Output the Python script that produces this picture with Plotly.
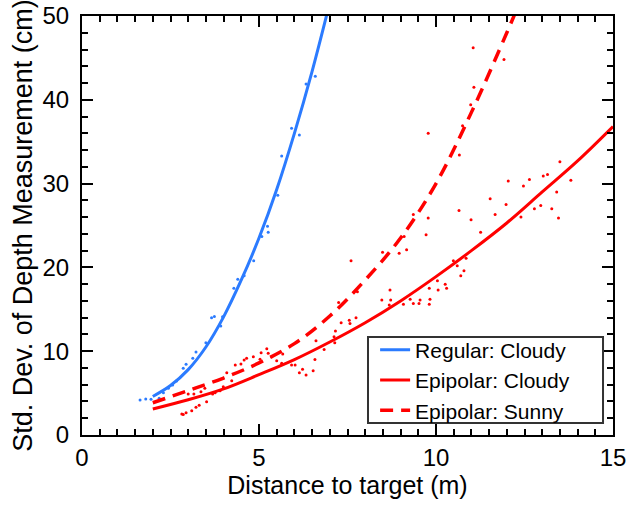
import plotly.graph_objects as go

# ---- fitted curves ----
reg_fit_x = [2.0, 2.5, 3.0, 3.5, 4.0, 4.5, 5.0, 5.5, 6.0, 6.5, 7.0]
reg_fit_y = [4.6, 5.9, 7.8, 10.5, 14.1, 18.5, 23.5, 29.3, 36.0, 43.4, 51.6]

epi_cloudy_fit_x = [2, 3, 4, 5, 6, 7, 8, 9, 10, 11, 12, 13, 14, 15]
epi_cloudy_fit_y = [3.1, 4.2, 5.5, 7.2, 9.0, 11.1, 13.4, 16.0, 18.9, 22.0, 25.3, 29.0, 32.7, 36.8]

epi_sunny_fit_x = [2, 3, 4, 5, 6, 7, 8, 9, 10, 11, 12, 12.5]
epi_sunny_fit_y = [3.85, 5.3, 6.8, 8.6, 10.9, 14.2, 18.5, 23.5, 30.0, 38.5, 48.0, 53.0]

# ---- measured points ----
reg_pts_x = [1.64, 1.8, 1.95, 2.18, 2.3, 2.44, 2.56, 2.67, 2.86, 2.94, 3.13, 3.22, 3.5, 3.66,
             3.74, 3.92, 3.97, 4.29, 4.4, 4.58, 4.85, 5.08, 5.24, 5.26, 5.53, 5.64, 5.92,
             6.14, 6.33, 6.59]
reg_pts_y = [4.18, 4.3, 4.26, 4.4, 5.05, 5.57, 5.97, 6.44, 7.96, 8.45, 9.15, 9.9, 11.0, 14.0,
             14.15, 13.0, 14.1, 17.5, 18.6, 19.0, 20.8, 23.7, 24.9, 24.2, 28.6, 33.3, 36.6,
             35.8, 41.9, 42.8]

sunny_pts_x = [3.0, 3.16, 3.36, 3.47, 3.69, 3.76, 3.9, 3.99, 4.09, 4.23, 4.33, 4.49, 4.58,
               4.65, 4.84, 5.06, 5.22, 5.26, 5.36, 5.67, 6.61, 6.84, 7.12, 7.16, 7.25, 7.32,
               7.55, 7.57, 7.74, 7.6, 7.78, 8.49, 8.96, 9.1, 9.17, 9.36, 9.72, 9.78, 9.78,
               10.66, 10.75, 10.98, 11.07, 11.05, 11.92]
sunny_pts_y = [4.9, 4.9, 5.17, 5.57, 4.9, 5.05, 5.29, 5.77, 7.44, 6.48, 8.35, 8.47, 8.95,
               9.15, 9.34, 9.82, 10.3, 9.75, 9.34, 9.67, 11.25, 10.2, 11.73, 12.4, 15.8, 13.4,
               13.7, 13.3, 14.0, 20.8, 17.1, 21.8, 21.7, 23.7, 22.1, 26.3, 23.9, 25.9, 36.0,
               33.4, 36.9, 39.4, 41.5, 46.2, 44.8]

cloudy_pts_x = [2.82, 2.86, 2.94, 3.1, 3.22, 3.31, 3.52, 5.03, 5.5, 5.64, 5.92, 6.02, 6.14,
                6.23, 6.33, 6.53, 6.58, 7.14, 8.47, 8.7, 8.72, 8.68, 9.08, 9.27, 9.36, 9.52,
                9.55, 9.81, 9.83, 9.81, 10.04, 10.06, 10.26, 10.3, 10.49, 10.6, 10.7, 10.79,
                10.85, 10.65, 10.99, 11.26, 11.53, 11.67, 11.98, 12.04, 12.4, 12.47, 12.64,
                12.78, 12.96, 13.03, 13.15, 13.27, 13.41, 13.46, 13.5, 13.81]
cloudy_pts_y = [2.5, 2.46, 2.66, 2.9, 3.3, 3.54, 3.98, 9.03, 8.87, 8.55, 8.35, 8.35, 7.44,
                7.84, 7.16, 7.68, 9.0, 11.0, 16.1, 17.3, 16.1, 15.5, 15.6, 16.2, 15.7, 15.7,
                16.1, 17.5, 16.2, 15.6, 18.4, 17.3, 18.0, 17.5, 20.8, 20.2, 19.0, 19.6,
                21.1, 26.8, 25.7, 24.2, 28.2, 26.3, 27.5, 30.3, 26.0, 29.7, 30.5,
                27.0, 27.4, 30.9, 31.1, 27.0, 29.0, 25.9, 32.6, 30.4]

x_ticks = [0, 5, 10, 15]
y_ticks = [0, 10, 20, 30, 40, 50]

BLUE = "#2B7BFF"
RED = "#FF0000"
FONT = "Liberation Sans, Arial, sans-serif"

fig = go.Figure()

# dots
fig.add_trace(go.Scatter(x=reg_pts_x, y=reg_pts_y, mode="markers",
                         marker=dict(color=BLUE, size=3), showlegend=False, hoverinfo="skip"))
fig.add_trace(go.Scatter(x=cloudy_pts_x, y=cloudy_pts_y, mode="markers",
                         marker=dict(color=RED, size=3), showlegend=False, hoverinfo="skip"))
fig.add_trace(go.Scatter(x=sunny_pts_x, y=sunny_pts_y, mode="markers",
                         marker=dict(color=RED, size=3), showlegend=False, hoverinfo="skip"))

# fits
fig.add_trace(go.Scatter(x=reg_fit_x, y=reg_fit_y, mode="lines", name="Regular: Cloudy",
                         line=dict(color=BLUE, width=3, shape="spline")))
fig.add_trace(go.Scatter(x=epi_cloudy_fit_x, y=epi_cloudy_fit_y, mode="lines",
                         name="Epipolar: Cloudy",
                         line=dict(color=RED, width=3, shape="spline")))
fig.add_trace(go.Scatter(x=epi_sunny_fit_x, y=epi_sunny_fit_y, mode="lines",
                         name="Epipolar: Sunny",
                         line=dict(color=RED, width=3.5, shape="spline", dash="13px,8px")))

axis_common = dict(
    showgrid=False, zeroline=False, showline=True, linecolor="black", linewidth=2,
    mirror="allticks", ticks="inside", ticklen=11, tickwidth=2, tickcolor="black",
    tickfont=dict(family=FONT, size=24, color="black"),
)

fig.update_xaxes(**axis_common, range=[0, 15], tickvals=x_ticks,
                 ticktext=[str(v) for v in x_ticks],
                 minor=dict(ticks="inside", dtick=0.5, tick0=0, ticklen=6, tickwidth=2,
                            tickcolor="black", showgrid=False),
                 title=dict(text="Distance to target (m)",
                            font=dict(family=FONT, size=25, color="black"), standoff=6),
                 ticklabelstandoff=0)
fig.update_yaxes(**axis_common, range=[0, 50], tickvals=y_ticks,
                 ticktext=[str(v) for v in y_ticks],
                 minor=dict(ticks="inside", dtick=2, tick0=0, ticklen=6, tickwidth=2,
                            tickcolor="black", showgrid=False),
                 title=dict(text="Std. Dev. of Depth Measurement (cm)",
                            font=dict(family=FONT, size=27, color="black"), standoff=2),
                 ticklabelstandoff=6)

# legend frame (opaque box behind the legend entries)
fig.add_shape(type="rect", xref="paper", yref="paper",
              x0=0.5386, x1=0.9812, y0=0.0286, y1=0.2339,
              fillcolor="white", line=dict(color="#333333", width=2), layer="above")

fig.update_layout(
    width=628, height=506,
    margin=dict(l=82, r=15, t=16, b=71, autoexpand=False),
    paper_bgcolor="white", plot_bgcolor="white",
    font=dict(family=FONT, color="black"),
    legend=dict(x=0.552, y=0.131, xanchor="left", yanchor="middle",
                bgcolor="rgba(0,0,0,0)", borderwidth=0,
                font=dict(family=FONT, size=21, color="black"),
                tracegroupgap=0, itemwidth=30),
    showlegend=True,
)

fig.write_html("out.html")
